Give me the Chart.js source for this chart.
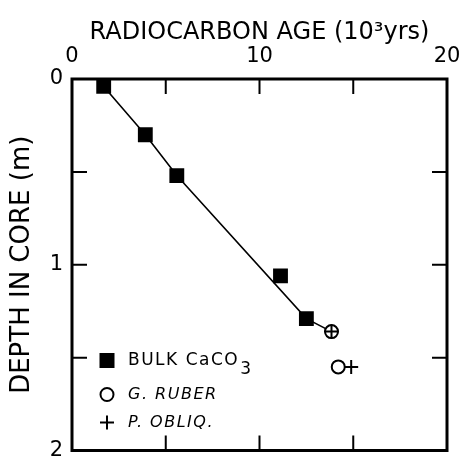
<!DOCTYPE html>
<html><head><meta charset="utf-8">
<script src="https://cdn.jsdelivr.net/npm/chart.js@4.4.1/dist/chart.umd.min.js"></script>
<style>html,body{margin:0;padding:0;background:#fff;}canvas{display:block;}</style>
</head><body>
<canvas id="c" width="463" height="461"></canvas>
<script>
// ---- data ----
const bulkAge   = [1.69, 3.91, 5.59, 11.12, 12.50];
const bulkDepth = [0.04, 0.30, 0.52, 1.06, 1.29];
const ruberAge   = [13.84, 14.20];
const ruberDepth = [1.36, 1.55];
const obliqAge   = [13.84, 14.89];
const obliqDepth = [1.36, 1.55];
const lineAge   = [1.69, 3.91, 5.59, 12.50, 13.84];
const lineDepth = [0.04, 0.30, 0.52, 1.29, 1.36];
const xTicks = [0, 5, 10, 15, 20];
const xLabels = [0, 10, 20];
const yTicks = [0, 0.5, 1, 1.5, 2];
const yLabels = [0, 1, 2];
const seriesNames = ['BULK CaCO3', 'G. RUBER', 'P. OBLIQ.'];

const FONT = '"DejaVu Sans", sans-serif';
const pts = (xs, ys) => xs.map((x, i) => ({x: x, y: ys[i]}));

const framePlugin = {
  id: 'frame',
  afterDatasetsDraw(chart) {
    const ctx = chart.ctx, a = chart.chartArea, sx = chart.scales.x, sy = chart.scales.y;
    ctx.save();
    ctx.strokeStyle = '#000';
    ctx.lineWidth = 3;
    ctx.strokeRect(a.left, a.top, a.right - a.left, a.bottom - a.top);
    ctx.lineWidth = 2;
    const L = 15;
    ctx.beginPath();
    xTicks.forEach(v => {
      const p = sx.getPixelForValue(v);
      ctx.moveTo(p, a.top); ctx.lineTo(p, a.top + L);
      ctx.moveTo(p, a.bottom); ctx.lineTo(p, a.bottom - L);
    });
    yTicks.forEach(v => {
      const p = sy.getPixelForValue(v);
      ctx.moveTo(a.left, p); ctx.lineTo(a.left + L, p);
      ctx.moveTo(a.right, p); ctx.lineTo(a.right - L, p);
    });
    ctx.stroke();

    // legend (inside plot, bottom-left)
    const mx = a.left + 35, tx = a.left + 56;
    const rows = [a.bottom - 90, a.bottom - 56, a.bottom - 28];
    ctx.fillStyle = '#000';
    ctx.fillRect(mx - 7.5, rows[0] - 7.5, 15, 15);
    ctx.lineWidth = 2;
    ctx.beginPath(); ctx.arc(mx, rows[1], 6.5, 0, Math.PI * 2); ctx.stroke();
    ctx.beginPath();
    ctx.moveTo(mx - 7, rows[2]); ctx.lineTo(mx + 7, rows[2]);
    ctx.moveTo(mx, rows[2] - 7); ctx.lineTo(mx, rows[2] + 7);
    ctx.stroke();
    ctx.textBaseline = 'middle';
    ctx.textAlign = 'left';
    try { ctx.letterSpacing = '1.5px'; } catch (e) {}
    ctx.font = '17px ' + FONT;
    const main = seriesNames[0].slice(0, -1);
    ctx.fillText(main, tx, rows[0]);
    const w = ctx.measureText(main).width;
    ctx.fillText(seriesNames[0].slice(-1), tx + w + 1, rows[0] + 9);
    ctx.font = 'italic 16px ' + FONT;
    ctx.fillText(seriesNames[1], tx, rows[1]);
    ctx.fillText(seriesNames[2], tx, rows[2]);
    ctx.restore();
  }
};

new Chart(document.getElementById('c'), {
  type: 'scatter',
  data: {
    datasets: [
      { label: seriesNames[2], data: pts(obliqAge, obliqDepth), pointStyle: 'cross',
        pointRadius: 7, pointBorderWidth: 2, borderColor: '#000', backgroundColor: '#000', showLine: false },
      { label: seriesNames[1], data: pts(ruberAge, ruberDepth), pointStyle: 'circle',
        pointRadius: 6.5, pointBorderWidth: 2, borderColor: '#000', backgroundColor: '#fff', showLine: false },
      { label: seriesNames[0], data: pts(bulkAge, bulkDepth), pointStyle: 'rect',
        pointRadius: 10.5, pointBorderWidth: 0, borderColor: '#000', backgroundColor: '#000', showLine: false },
      { label: 'line', data: pts(lineAge, lineDepth), showLine: true, pointRadius: 0,
        borderColor: '#000', borderWidth: 1.6, fill: false }
    ]
  },
  options: {
    responsive: false,
    animation: false,
    devicePixelRatio: 1,
    layout: { padding: { left: 0, top: 0, right: 16, bottom: 4 } },
    plugins: { legend: { display: false }, tooltip: { enabled: false } },
    scales: {
      x: {
        type: 'linear', position: 'top', min: 0, max: 20,
        afterBuildTicks: s => { s.ticks = xTicks.map(v => ({value: v})); },
        afterFit: s => { s.height = 79; s.paddingLeft = 0; s.paddingRight = 0; },
        grid: { display: false, drawTicks: false },
        border: { display: false },
        ticks: { padding: 10, maxRotation: 0, autoSkip: false, color: '#000',
                 font: { family: FONT, size: 21 },
                 callback: v => xLabels.includes(v) ? String(v) : '' },
        title: { display: true, text: 'RADIOCARBON AGE (10³yrs)', color: '#000',
                 font: { family: FONT, size: 24 }, padding: { top: 18, bottom: 0 } }
      },
      y: {
        type: 'linear', position: 'left', reverse: true, min: 0, max: 2,
        afterBuildTicks: s => { s.ticks = yTicks.map(v => ({value: v})); },
        afterFit: s => { s.width = 72; s.paddingTop = 0; s.paddingBottom = 0; },
        grid: { display: false, drawTicks: false },
        border: { display: false },
        ticks: { padding: 9, autoSkip: false, color: '#000',
                 font: { family: FONT, size: 21 },
                 callback: v => yLabels.includes(v) ? String(v) : '' },
        title: { display: true, text: 'DEPTH IN CORE (m)', color: '#000',
                 font: { family: FONT, size: 26 }, padding: { top: 7, bottom: 0 } }
      }
    }
  },
  plugins: [framePlugin]
});
</script>
</body></html>
